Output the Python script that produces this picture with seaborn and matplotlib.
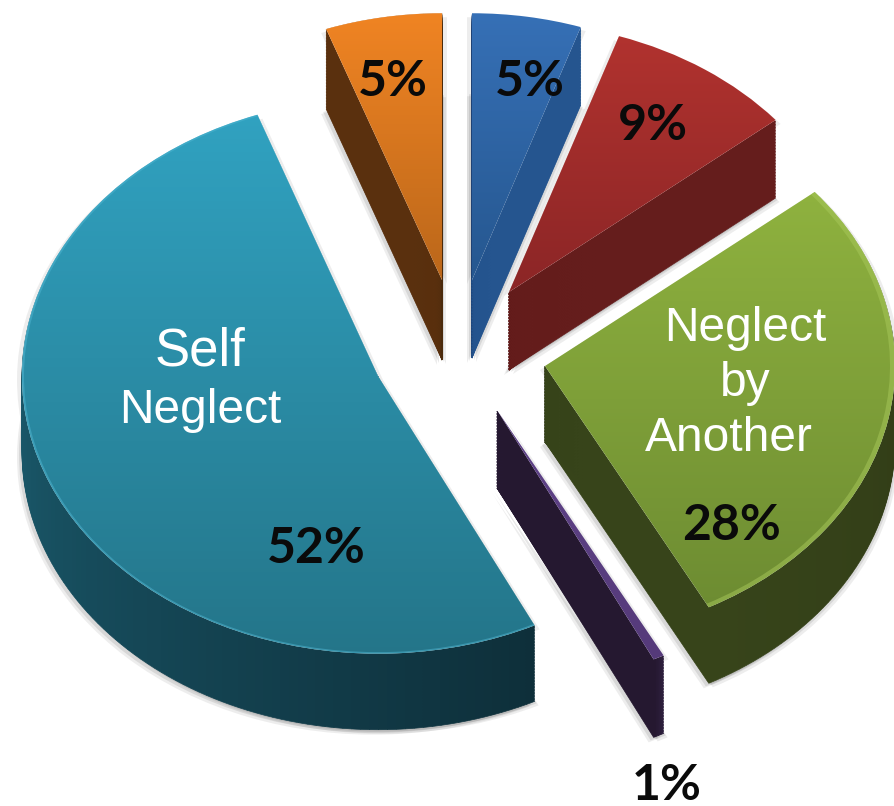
import numpy as np
import matplotlib
matplotlib.use('Agg')
import matplotlib.pyplot as plt
import seaborn as sns

# clockwise from 12 o'clock, shares measured off the slice angles
names = ['Other blue', 'Other red', 'Neglect by Another', 'Other purple', 'Self Neglect', 'Other orange']
values = [5.15, 8.85, 28.25, 0.5, 51.75, 5.5]
percent_labels = ['5%', '9%', '28%', '1%', '52%', '5%']

top_colors = [('#3670b6', '#25568e'), ('#b3332f', '#8a2526'), ('#8fb23f', '#6d8c32'),
              ('#5f4388', '#553a7a'), ('#31a3c2', '#247589'), ('#f08423', '#b9661a')]
wall_colors = [('#1f4275', '#25558f'), ('#5a1716', '#651d1c'), ('#2f3915', '#37441a'),
               ('#2d1f3d', '#251830'), ('#0e2f3a', '#217187'), ('#5a300e', '#4a2a0c')]
rim_colors = ['#4f8ad0', '#c9504a', '#a8c85a', '#6f5299', '#4fb6d2', '#f59a45']

# pixel layout of each slice: apex of top face, radius, wall height
apex = [(472, 280), (509, 292), (545, 366), (497, 410), (378, 376), (442, 280)]
radius = [342, 346, 350, 356, 356, 342]
depth = [78, 78, 76, 78, 76, 80]
rim_width = [0, 0, 5, 0, 2, 0]

squash = 0.78
layer_step = 1.5

sns.set_theme(style='white')
fig = plt.figure(figsize=(8.94, 8.06), dpi=100)
ax = fig.add_axes([0, 0, 1, 1])


def py(y):
    return -y / squash


def slice_pie(v, start, center, r, colors, z, edge=False, **wedge):
    parts = [v / len(colors)] * len(colors) + [100 - v]
    patches, _ = ax.pie(parts, colors=list(colors) + ['none'], startangle=90 - 3.6 * start,
                        counterclock=False, center=center, radius=r, wedgeprops=wedge)
    for p in patches:
        p.set_zorder(z)
        if edge:
            p.set_edgecolor(p.get_facecolor())
    return patches


z = 1
start = 0
for i, v in enumerate(values):
    cx, cy = apex[i]
    r = radius[i]

    # soft shadow round the wall
    for dx, dy, a in [(-5, 5, 0.10), (4, 4, 0.10), (-3, 3, 0.14), (2, 2, 0.14)]:
        slice_pie(v, start, (cx + dx, py(cy + depth[i] + dy)), r, ['#555555'], z, linewidth=0, alpha=a)
    slice_pie(v, start, (cx - 5, py(cy + 4)), r, ['#555555'], z, linewidth=0, alpha=0.10)
    slice_pie(v, start, (cx + 5, py(cy + 4)), r, ['#555555'], z, linewidth=0, alpha=0.10)
    z += 1

    # wall: stacked copies of the slice, bottom first
    wall = sns.blend_palette(wall_colors[i], max(6, int(v * 2.5)))
    for off in np.arange(depth[i], 0, -layer_step):
        slice_pie(v, start, (cx, py(cy + off)), r, wall, z, edge=True, linewidth=0.5)
        z += 1

    # top face with vertical gradient clipped to the slice
    top = slice_pie(v, start, (cx, py(cy)), r, ['#ffffff'], z, linewidth=0)
    grad = np.array(sns.blend_palette(top_colors[i], 128))[:, None, :]
    y0 = cy - r * squash
    y1 = cy + r * squash
    if i in (0, 1, 5):
        y1 = cy + 10
    elif i == 2:
        y0, y1 = 190, 610
    elif i == 3:
        y0, y1 = 405, 665
    elif i == 4:
        y0, y1 = 100, 660
    im = ax.imshow(grad, extent=(cx - r, cx + r, py(y1), py(y0)), aspect='auto', zorder=z + 1)
    im.set_clip_path(top[0])
    z += 2

    # bevel along the arc
    if rim_width[i]:
        slice_pie(v, start, (cx, py(cy)), r, [rim_colors[i]], z + 1, linewidth=0, width=rim_width[i], alpha=0.5)
        z += 2
    start += v

pct_font = dict(family='Lato', fontweight='bold', fontsize=36,
                color='#0a0a0a', ha='center', va='center', zorder=z)
pct_pos = [(530, 81), (653, 125), (731, 525), (667, 785), (316, 548), (393, 81)]
for lab, (x, y) in zip(percent_labels, pct_pos):
    ax.text(x, py(y), lab, **pct_font)

name_font = dict(family='Liberation Sans', fontsize=34.5, color='white', ha='center', va='center', zorder=z)
ax.text(200, py(351), 'Self', family='Liberation Sans', fontsize=38, color='white', ha='center', va='center', zorder=z)
ax.text(200, py(410), 'Neglect', **name_font)
ax.text(745, py(328), 'Neglect', **name_font)
ax.text(745, py(383), 'by', **name_font)
ax.text(729, py(438), 'Another', **name_font)

ax.set_aspect('auto')
ax.set_xlim(0, 894)
ax.set_ylim(py(806), 0)
ax.axis('off')
fig.savefig('out.png', dpi=100, facecolor='white')
